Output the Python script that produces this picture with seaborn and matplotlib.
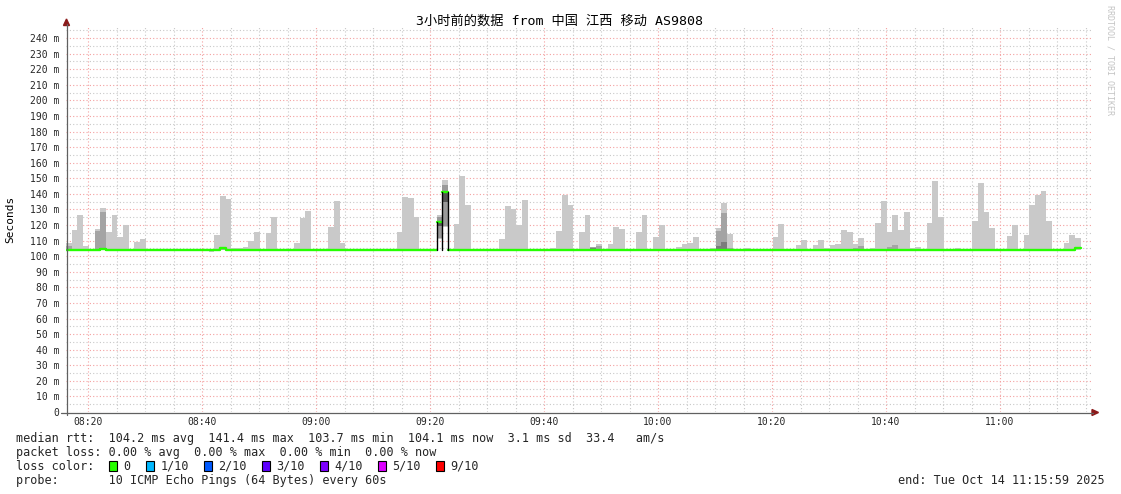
import numpy as np
import pandas as pd
import matplotlib
matplotlib.use("Agg")
import matplotlib.pyplot as plt
import seaborn as sns
from matplotlib.patches import Rectangle, Polygon
from matplotlib.lines import Line2D

sns.set_theme(style="white")
plt.rcParams["font.family"] = ["DejaVu Sans Mono", "Noto Sans CJK SC"]

# ---------------- data ----------------
title = "3小时前的数据 from 中国 江西 移动 AS9808"
n_steps = 178                 # one step per minute
start_min = 16.14             # minutes after 08:00 of the first step
x_tick_minutes = [20, 40, 60, 80, 100, 120, 140, 160, 180]
x_tick_labels = ["08:20", "08:40", "09:00", "09:20", "09:40", "10:00", "10:20", "10:40", "11:00"]
y_ticks = list(range(0, 241, 10))

smoke_minutes = [0, 1, 2, 3, 5, 6, 7, 8, 9, 10, 12, 13, 25, 26, 27, 28, 29, 30, 31, 32, 33, 35, 36,
                 40, 41, 42, 46, 47, 48, 58, 59, 60, 61, 68, 69, 70, 76, 77, 78, 79, 80, 85, 86, 87,
                 88, 90, 91, 92, 93, 95, 96, 97, 100, 101, 103, 104, 107, 108, 109, 110, 113, 114,
                 115, 116, 119, 124, 125, 128, 129, 131, 132, 133, 134, 135, 136, 137, 138, 139, 141,
                 142, 143, 144, 145, 146, 147, 148, 149, 151, 152, 153, 156, 159, 160, 161, 162, 165,
                 166, 168, 169, 170, 171, 172, 175, 176, 177]
smoke_max = [108.6, 116.7, 126.3, 106.4, 117.3, 130.8, 115.4, 126.3, 112.2, 120.3, 109.0, 110.9,
             104.3, 113.5, 138.5, 136.6, 105.0, 105.0, 105.8, 110.0, 115.4, 115.0, 125.0,
             108.6, 124.4, 128.9, 118.6, 135.3, 108.6, 115.4, 137.9, 137.2, 125.0, 120.5, 151.3,
             132.7, 111.3, 132.1, 130.2, 120.1, 135.9, 105.0, 116.0, 139.1,
             132.9, 115.4, 126.3, 105.6, 107.7, 107.7, 118.6, 117.3, 115.4, 126.3, 112.2, 120.1,
             105.8, 107.7, 108.6, 112.2, 105.0, 118.0,
             134.0, 114.1, 105.0, 112.2, 120.5, 107.0, 110.3, 107.0, 110.3, 105.0, 107.0, 107.7,
             116.7, 115.4, 107.7, 111.6, 105.0,
             121.2, 135.3, 115.4, 126.3, 116.7, 128.2, 105.0, 105.8, 121.2, 148.1, 125.0, 105.0,
             122.5, 146.8, 128.2, 118.0, 112.8,
             119.9, 113.5, 132.7, 139.1, 141.7, 122.5, 108.3, 113.5, 111.6]
smoke_min_default = 103.8
smoke_min_minutes = [25]
smoke_min_values = [102.7]

dark_minutes = [0, 5, 6, 27, 92, 93, 114, 115, 116, 138, 139, 144, 145]
dark_max = [106.5, 116.0, 128.2, 105.5, 105.6, 106.5, 116.0, 127.6, 105.0, 105.2, 106.4, 105.6, 107.0]
darker_minutes = [92, 114, 115]
darker_max = [105.0, 106.5, 109.2]

# the two high-latency minutes (full smoke stack)
spike_minutes = [65, 66]
spike_lo = [110.9, 118.8]
spike_hi = [126.3, 148.8]
spike_mid_lo = [111.5, 119.5]
spike_mid_hi = [125.3, 145.6]
spike_core_lo = [119.5, 135.0]
spike_core_hi = [122.0, 140.6]

median_default = 104.1
median_minutes = [6, 27, 65, 66, 177]
median_values = [104.8, 105.3, 122.2, 141.5, 105.0]

loss_labels = ["0", "1/10", "2/10", "3/10", "4/10", "5/10", "9/10"]
loss_colors = ["#26ff00", "#00b8ff", "#0059ff", "#5e00ff", "#7e00ff", "#dd00ff", "#ff0000"]

legend_rtt = "median rtt:  104.2 ms avg  141.4 ms max  103.7 ms min  104.1 ms now  3.1 ms sd  33.4   am/s"
legend_loss = "packet loss: 0.00 % avg  0.00 % max  0.00 % min  0.00 % now"
legend_probe = "probe:       10 ICMP Echo Pings (64 Bytes) every 60s"
legend_end = "end: Tue Oct 14 11:15:59 2025"

# ---------------- figure ----------------
W, H = 1121, 494
fig = plt.figure(figsize=(W / 100, H / 100), dpi=100)
fig.patch.set_facecolor("white")

def fx(x):
    return x / W

def fy(y):
    return 1 - y / H

ax = fig.add_axes([fx(66), fy(412), (1092 - 66) / W, (412 - 27) / H])
ax.set_xlim(start_min, start_min + 180)
ax.set_ylim(0, 247.1)
ax.set_facecolor("white")

# grid
ax.set_xticks(x_tick_minutes)
ax.set_xticks(np.arange(20, 196, 5), minor=True)
ax.set_yticks(y_ticks)
ax.set_yticks(np.arange(5, 247, 10), minor=True)
ax.grid(which="minor", color="#c8c8c8", linestyle=(0, (1, 2)), linewidth=0.8)
ax.grid(which="major", color="#f4a0a0", linestyle=(0, (1, 2)), linewidth=0.8)
ax.set_axisbelow(True)

# smoke
smoke_df = pd.DataFrame({"minute": smoke_minutes, "top": smoke_max})
smoke_df["bottom"] = smoke_min_default
for m, v in zip(smoke_min_minutes, smoke_min_values):
    smoke_df.loc[smoke_df["minute"] == m, "bottom"] = v
ax.bar(start_min + smoke_df["minute"], smoke_df["top"] - smoke_df["bottom"], bottom=smoke_df["bottom"],
       width=1.0, align="edge", color="#c9c9c9", linewidth=0, zorder=2)
dark_df = pd.DataFrame({"minute": dark_minutes, "top": dark_max})
ax.bar(start_min + dark_df["minute"], dark_df["top"] - smoke_min_default, bottom=smoke_min_default,
       width=1.0, align="edge", color="#a4a4a4", linewidth=0, zorder=2.1)
darker_df = pd.DataFrame({"minute": darker_minutes, "top": darker_max})
ax.bar(start_min + darker_df["minute"], darker_df["top"] - smoke_min_default, bottom=smoke_min_default,
       width=1.0, align="edge", color="#7c7c7c", linewidth=0, zorder=2.2)

spk = pd.DataFrame({"minute": spike_minutes, "lo": spike_lo, "hi": spike_hi,
                    "mlo": spike_mid_lo, "mhi": spike_mid_hi, "clo": spike_core_lo, "chi": spike_core_hi})
ax.bar(start_min + spk["minute"], spk["hi"] - spk["lo"], bottom=spk["lo"], width=1.0, align="edge",
       color="#c9c9c9", linewidth=0, zorder=2)
ax.bar(start_min + spk["minute"], spk["mhi"] - spk["mlo"], bottom=spk["mlo"], width=1.0, align="edge",
       color="#9a9a9a", linewidth=0, zorder=2.1)
ax.bar(start_min + spk["minute"], spk["chi"] - spk["clo"], bottom=spk["clo"], width=1.0, align="edge",
       color="#555555", linewidth=0, zorder=2.2)

# median line (green), split into segments around the spike minutes
median = np.full(n_steps, median_default)
for m, v in zip(median_minutes, median_values):
    median[m] = v
segments = [(0, 65), (65, 66), (66, 67), (67, n_steps)]
rows = []
for sid, (a, b) in enumerate(segments):
    for i in range(a, b):
        rows.append({"t": start_min + i, "rtt": median[i], "seg": sid})
    rows.append({"t": start_min + b, "rtt": median[b - 1], "seg": sid})
med_df = pd.DataFrame(rows)
sns.lineplot(data=med_df, x="t", y="rtt", units="seg", estimator=None, drawstyle="steps-post",
             color="#26ff00", linewidth=1.7, ax=ax, zorder=3, legend=False)
# black step edges of the spike
for t, y0, y1 in [(65, median_default, median[65]), (66, median_default, median[66]),
                  (67, median_default, median[66])]:
    ax.plot([start_min + t, start_min + t], [y0, y1], color="black", linewidth=1.0, zorder=3.5)

# axes styling
for s in ax.spines.values():
    s.set_visible(False)
ax.set_xticklabels(x_tick_labels)
ax.set_yticklabels([("%d m" % v) if v > 0 else "0" for v in y_ticks])
ax.tick_params(axis="x", which="major", labelsize=7, length=2, pad=1.5, color="#606060", direction="out")
ax.tick_params(axis="x", which="minor", length=0)
ax.tick_params(axis="y", which="major", labelsize=7, length=2, pad=3, color="#606060", direction="out")
ax.tick_params(axis="y", which="minor", length=0)
ax.set_xlabel("")
ax.set_ylabel("")

# axis lines and arrows
fig.add_artist(Line2D([fx(66.5), fx(66.5)], [fy(415), fy(24)], color="#606060", linewidth=0.9))
fig.add_artist(Line2D([fx(61), fx(1093)], [fy(412.5), fy(412.5)], color="#606060", linewidth=0.9))
fig.add_artist(Polygon([[fx(66.5), fy(19)], [fx(63.5), fy(25.5)], [fx(69.5), fy(25.5)]],
                       closed=True, color="#8b1a1a", transform=fig.transFigure))
fig.add_artist(Polygon([[fx(1098.5), fy(412.5)], [fx(1092), fy(409.5)], [fx(1092), fy(415.5)]],
                       closed=True, color="#8b1a1a", transform=fig.transFigure))

# texts
fig.text(fx(560), fy(21), title, ha="center", va="center", fontsize=9.5, color="black")
fig.text(fx(10), fy(219), "Seconds", ha="center", va="center", rotation=90, fontsize=8, color="black")
fig.text(fx(1110), fy(60), "RRDTOOL / TOBI OETIKER", ha="center", va="center", rotation=270,
         fontsize=6, color="#c4c4c4")

fs = 8.5
fig.text(fx(16), fy(438), legend_rtt, ha="left", va="center", fontsize=fs)
fig.text(fx(16), fy(452), legend_loss, ha="left", va="center", fontsize=fs)
fig.text(fx(16), fy(466), "loss color:", ha="left", va="center", fontsize=fs)
box_x = [108.5, 145.5, 203.6, 262, 320, 378, 436]
lab_x = [123.5, 160.5, 218, 276, 334, 392, 450]
for bx, lx, lab, col in zip(box_x, lab_x, loss_labels, loss_colors):
    fig.add_artist(Rectangle((fx(bx), fy(471)), 8 / W, 10 / H, facecolor=col, edgecolor="black",
                             linewidth=0.8, transform=fig.transFigure))
    fig.text(fx(lx), fy(466), lab, ha="left", va="center", fontsize=fs)
fig.text(fx(16), fy(480), legend_probe, ha="left", va="center", fontsize=fs)
fig.text(fx(1105), fy(480), legend_end, ha="right", va="center", fontsize=fs)

fig.savefig("out.png", dpi=100, facecolor="white")
